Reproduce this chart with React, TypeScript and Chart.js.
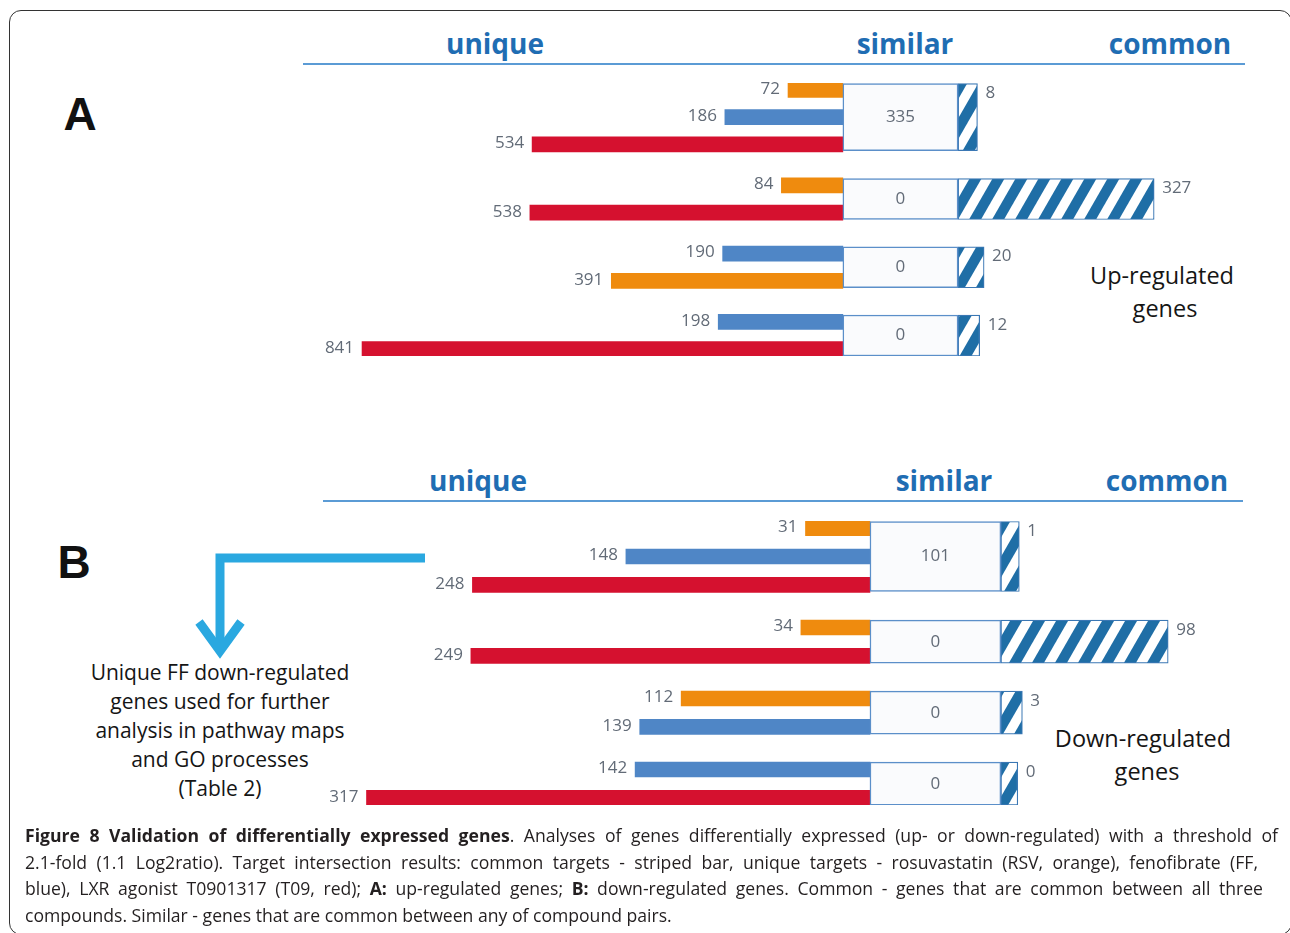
import React, { useEffect, useRef } from "react";
import { Chart, registerables } from "chart.js";

Chart.register(...registerables);

// ---------- data ----------
const compoundNames = ["RSV", "FF", "T09"];

const upGroupCompounds = [["RSV", "FF", "T09"], ["RSV", "T09"], ["FF", "RSV"], ["FF", "T09"]];
const upUnique = [[72, 186, 534], [84, 538], [190, 391], [198, 841]];
const upSimilar = [335, 0, 0, 0];
const upCommon = [8, 327, 20, 12];

const downGroupCompounds = [["RSV", "FF", "T09"], ["RSV", "T09"], ["RSV", "FF"], ["FF", "T09"]];
const downUnique = [[31, 148, 248], [34, 249], [112, 139], [142, 317]];
const downSimilar = [101, 0, 0, 0];
const downCommon = [1, 98, 3, 0];

const headerLabels = ["unique", "similar", "common"];

// ---------- styles ----------
const compoundColors: Record<string, string> = { RSV: "#ef8b0e", FF: "#4f86c6", T09: "#d5112f" };
const LABEL_COLOR = "#626b77";
const HEADER_COLOR = "#1f6db3";
const BOX_BORDER = "#5b8fc9";
const COMMON_BORDER = "#3a77b4";
const STRIPE_COLOR = "#1f6ea6";

type PanelCfg = {
  left: number; top: number; width: number; height: number;
  min: number; max: number; stub: number; sim: number; box3: number; box2: number;
};

const panelA: PanelCfg = { left: 300, top: 63, width: 950, height: 313, min: -980, max: 735, stub: 27, sim: 208, box3: 67, box2: 41 };
const panelB: PanelCfg = { left: 320, top: 501, width: 930, height: 324, min: -358.3, max: 247.6, stub: 11, sim: 85.3, box3: 70, box2: 43 };

function makeStripePattern(ctx: CanvasRenderingContext2D) {
  const P = 23, H = 40, w = 12;
  const c = document.createElement("canvas");
  c.width = P; c.height = H;
  const g = c.getContext("2d")!;
  g.fillStyle = "#ffffff";
  g.fillRect(0, 0, P, H);
  g.fillStyle = STRIPE_COLOR;
  for (const off of [-P, 0, P]) {
    g.beginPath();
    g.moveTo(off, H);
    g.lineTo(off + w, H);
    g.lineTo(off + w + P, 0);
    g.lineTo(off + P, 0);
    g.closePath();
    g.fill();
  }
  return ctx.createPattern(c, "repeat")!;
}

function Panel(props: { cfg: PanelCfg; groups: string[][]; unique: number[][]; similar: number[]; common: number[] }) {
  const ref = useRef<HTMLCanvasElement>(null);
  useEffect(() => {
    const { cfg, groups, unique, similar, common } = props;
    const canvas = ref.current!;
    const ctx = canvas.getContext("2d")!;
    const pattern = makeStripePattern(ctx);

    // slot layout: rows two slots apart inside a group, three slots between groups
    let slot = 0;
    const layout = groups.map((g) => {
      const rows = g.map((_, ri) => slot + ri * 2);
      const mid = slot + (g.length - 1);
      slot = rows[rows.length - 1] + 3;
      return { rows, mid };
    });
    const n = slot - 2;
    const labels = Array.from({ length: n }, (_, i) => String(i));
    const empty = () => Array.from({ length: n }, () => null as any);

    const datasets: any[] = [];
    const sim3 = empty(), sim2 = empty(), com3 = empty(), com2 = empty();
    layout.forEach((l, gi) => {
      const s = groups[gi].length === 3 ? sim3 : sim2;
      const c = groups[gi].length === 3 ? com3 : com2;
      s[l.mid] = [0, cfg.sim];
      c[l.mid] = [cfg.sim, cfg.sim + cfg.stub + common[gi]];
    });
    const boxBase = { grouped: false, borderSkipped: false as const };
    datasets.push({ label: "similar3", data: sim3, barThickness: cfg.box3, backgroundColor: "#fafbfd", borderColor: BOX_BORDER, borderWidth: 1.5, ...boxBase });
    datasets.push({ label: "similar2", data: sim2, barThickness: cfg.box2, backgroundColor: "#fafbfd", borderColor: BOX_BORDER, borderWidth: 1.5, ...boxBase });
    datasets.push({ label: "common3", data: com3, barThickness: cfg.box3, backgroundColor: pattern, borderColor: COMMON_BORDER, borderWidth: 1.2, ...boxBase });
    datasets.push({ label: "common2", data: com2, barThickness: cfg.box2, backgroundColor: pattern, borderColor: COMMON_BORDER, borderWidth: 1.2, ...boxBase });

    compoundNames.forEach((name) => {
      const d = empty();
      layout.forEach((l, gi) => {
        groups[gi].forEach((c, ri) => {
          if (c === name) d[l.rows[ri]] = [-(cfg.stub + unique[gi][ri]), 0];
        });
      });
      datasets.push({ label: name, data: d, barThickness: 15, backgroundColor: compoundColors[name], borderWidth: 0, grouped: false });
    });

    const labelPlugin = {
      id: "valueLabels",
      afterDatasetsDraw(chart: any) {
        const c = chart.ctx as CanvasRenderingContext2D;
        const xs = chart.scales.x, ys = chart.scales.y;
        c.save();
        c.font = '17px "Open Sans"';
        c.fillStyle = LABEL_COLOR;
        c.textBaseline = "middle";
        layout.forEach((l, gi) => {
          c.textAlign = "right";
          l.rows.forEach((s, ri) => {
            const v = unique[gi][ri];
            c.fillText(String(v), xs.getPixelForValue(-(cfg.stub + v)) - 8, ys.getPixelForValue(s) - 1);
          });
          c.textAlign = "center";
          c.fillText(String(similar[gi]), xs.getPixelForValue(cfg.sim / 2), ys.getPixelForValue(l.mid));
          c.textAlign = "left";
          c.fillText(String(common[gi]), xs.getPixelForValue(cfg.sim + cfg.stub + common[gi]) + 8, ys.getPixelForValue(l.rows[0]) + 3);
        });
        c.restore();
      },
    };

    const chart = new Chart(canvas, {
      type: "bar",
      data: { labels, datasets },
      options: {
        indexAxis: "y",
        responsive: false,
        animation: false,
        layout: { padding: { top: 20, bottom: 20, left: 0, right: 0 } },
        scales: {
          x: { type: "linear", min: cfg.min, max: cfg.max, display: false },
          y: { type: "category", display: false, offset: true },
        },
        plugins: { legend: { display: false }, tooltip: { enabled: false } },
      },
      plugins: [labelPlugin],
    });
    return () => chart.destroy();
  }, []);
  const { cfg } = props;
  return (
    <canvas
      ref={ref}
      width={cfg.width}
      height={cfg.height}
      style={{ position: "absolute", left: cfg.left, top: cfg.top, width: cfg.width, height: cfg.height }}
    />
  );
}

function T(props: { x: number; y: number; style?: React.CSSProperties; children: React.ReactNode }) {
  return (
    <div
      style={{
        position: "absolute",
        left: props.x,
        top: props.y,
        transform: "translate(-50%, -50%)",
        lineHeight: 1,
        whiteSpace: "nowrap",
        ...props.style,
      }}
    >
      {props.children}
    </div>
  );
}

const headerStyle: React.CSSProperties = { fontFamily: '"Open Sans", sans-serif', fontWeight: 700, fontSize: 28, color: HEADER_COLOR };
const letterStyle: React.CSSProperties = { fontFamily: '"Liberation Sans", Arial, sans-serif', fontWeight: 700, fontSize: 46, color: "#111" };
const sideStyle: React.CSSProperties = { fontFamily: '"Open Sans", sans-serif', fontSize: 23.5, fontWeight: 500, color: "#151515" };
const noteStyle: React.CSSProperties = { fontFamily: '"Open Sans", sans-serif', fontSize: 21, fontWeight: 500, color: "#151515" };

const captionLines: { w: number; content: React.ReactNode; justify: boolean }[] = [
  { w: 1253, justify: true, content: (<><b>Figure 8 Validation of differentially expressed genes</b>. Analyses of genes differentially expressed (up- or down-regulated) with a threshold of</>) },
  { w: 1233, justify: true, content: (<>2.1-fold (1.1 Log2ratio). Target intersection results: common targets - striped bar, unique targets - rosuvastatin (RSV, orange), fenofibrate (FF,</>) },
  { w: 1238, justify: true, content: (<>blue), LXR agonist T0901317 (T09, red); <b>A:</b> up-regulated genes; <b>B:</b> down-regulated genes. Common - genes that are common between all three</>) },
  { w: 1000, justify: false, content: (<>compounds. Similar - genes that are common between any of compound pairs.</>) },
];

export default function App() {
  return (
    <div style={{ position: "fixed", left: 0, top: 0, width: 1290, height: 933, overflow: "hidden", background: "#fff" }}>
      <div style={{ position: "absolute", left: 9, top: 10, width: 1283, height: 925, border: "1.5px solid #333", borderRadius: 12, boxSizing: "border-box" }} />

      {/* Panel A headers */}
      <T x={495} y={43} style={headerStyle}>{headerLabels[0]}</T>
      <T x={905} y={43} style={headerStyle}>{headerLabels[1]}</T>
      <T x={1170} y={43} style={headerStyle}>{headerLabels[2]}</T>
      <div style={{ position: "absolute", left: 303, top: 63, width: 942, height: 2, background: "#5b9bd5" }} />

      {/* Panel B headers */}
      <T x={478} y={480} style={headerStyle}>{headerLabels[0]}</T>
      <T x={944} y={480} style={headerStyle}>{headerLabels[1]}</T>
      <T x={1167} y={480} style={headerStyle}>{headerLabels[2]}</T>
      <div style={{ position: "absolute", left: 323, top: 500, width: 920, height: 2, background: "#5b9bd5" }} />

      <T x={80} y={114} style={letterStyle}>A</T>
      <T x={74} y={562} style={letterStyle}>B</T>

      <T x={1162} y={276} style={sideStyle}>Up-regulated</T>
      <T x={1165} y={309} style={sideStyle}>genes</T>
      <T x={1143} y={739} style={sideStyle}>Down-regulated</T>
      <T x={1147} y={772} style={sideStyle}>genes</T>

      <T x={220} y={672} style={noteStyle}>Unique FF down-regulated</T>
      <T x={220} y={701} style={noteStyle}>genes used for further</T>
      <T x={220} y={730} style={noteStyle}>analysis in pathway maps</T>
      <T x={220} y={759} style={noteStyle}>and GO processes</T>
      <T x={220} y={788} style={noteStyle}>(Table 2)</T>

      <svg width={1290} height={933} style={{ position: "absolute", left: 0, top: 0, pointerEvents: "none" }}>
        <polyline points="425,558 220,558 220,650" fill="none" stroke="#2aa8e0" strokeWidth={9} strokeLinejoin="miter" />
        <polyline points="199,622 220,651 241,622" fill="none" stroke="#2aa8e0" strokeWidth={9} strokeLinejoin="miter" strokeMiterlimit={10} />
      </svg>

      <Panel cfg={panelA} groups={upGroupCompounds} unique={upUnique} similar={upSimilar} common={upCommon} />
      <Panel cfg={panelB} groups={downGroupCompounds} unique={downUnique} similar={downSimilar} common={downCommon} />

      {captionLines.map((l, i) => (
        <div
          key={i}
          style={{
            position: "absolute",
            left: 25,
            top: 835 + i * 26.7 - 12,
            width: l.w,
            height: 24,
            fontFamily: '"Open Sans", sans-serif',
            fontSize: 17.6,
            lineHeight: "24px",
            color: "#231f20",
            textAlign: l.justify ? "justify" : "left",
            textAlignLast: l.justify ? "justify" : "left",
            whiteSpace: "nowrap",
          } as React.CSSProperties}
        >
          {l.content}
        </div>
      ))}
    </div>
  );
}
